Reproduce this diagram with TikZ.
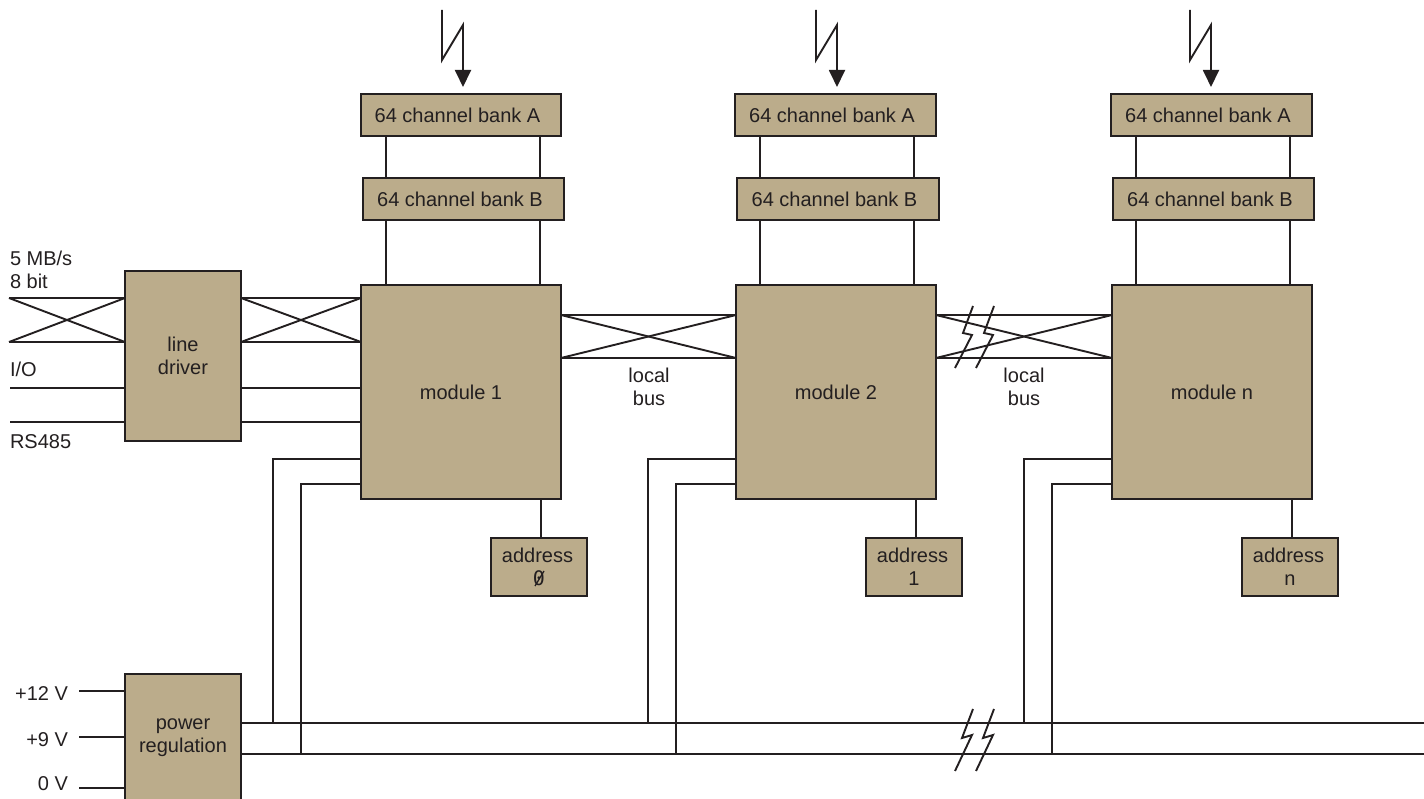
\documentclass[tikz,border=0pt]{standalone}
\usepackage{fontspec}
\setmainfont{Liberation Sans}
\newfontfamily\zeromono{DejaVu Sans Mono}
\usetikzlibrary{arrows.meta}
\definecolor{ink}{HTML}{231F20}
\definecolor{tan}{HTML}{BBAC8B}
\newcommand{\bx}[6][]{\node[boxs,#1,minimum width={(#4-#2)*1pt},minimum height={(#5-#3)*1pt}] (#6) at ({(#2+#4)/2},{(#3+#5)/2})}
\tikzset{
  boxs/.style={draw=ink,fill=tan,line width=2.2pt,inner sep=0pt,outer sep=0pt,align=center,text=ink,font=\fontsize{20}{23}\selectfont},
  wire/.style={draw=ink,line width=1.9pt},
  label/.style={inner sep=0pt,outer sep=0pt,text=ink,font=\fontsize{20}{23}\selectfont},
  zig/.style={draw=ink,line width=1.9pt,line join=miter,-{Triangle[length=17pt,width=16pt,fill=ink]}},
  bolt/.style={draw=ink,line width=1.9pt,line join=miter},
}
\begin{document}
\begin{tikzpicture}[x=1pt,y=-1pt]
\useasboundingbox (0,0) rectangle (1424,799);
\clip (0,0) rectangle (1424,799);
% modules and address boxes
\bx{361}{285}{561}{499}{m1} {module 1};
\bx{736}{285}{936}{499}{m2} {module 2};
\bx{1112}{285}{1312}{499}{m3} {module n};
\bx{361}{94}{561}{136}{a1} {\hspace*{-7pt}64 channel bank A};
\bx{735}{94}{936}{136}{a2} {\hspace*{-7pt}64 channel bank A};
\bx{1111}{94}{1312}{136}{a3} {\hspace*{-7pt}64 channel bank A};
\bx{363}{178}{564}{220}{b1} {\hspace*{-7pt}64 channel bank B};
\bx{737}{178}{939}{220}{b2} {\hspace*{-7pt}64 channel bank B};
\bx{1113}{178}{1314}{220}{b3} {\hspace*{-7pt}64 channel bank B};
\bx{491}{538}{587}{596}{d1} {\hspace*{-3pt}address\\{\zeromono 0}};
\bx{866}{538}{962}{596}{d2} {\hspace*{-3pt}address\\1};
\bx{1242}{538}{1338}{596}{d3} {\hspace*{-3pt}address\\n};
\bx{125}{271}{241}{441}{ld} {line\\driver};
\bx{125}{674}{241}{802}{pw} {power\\regulation};
% slash of the zero
\coordinate (zs) at (535,586);
\coordinate (ze) at (544,571);
\draw[draw=ink,line width=1.3pt] (zs) -- (ze);
% bank, module, address connectors
\foreach \i/\p/\q/\s in {1/386/540/541,2/760/914/916,3/1136/1290/1292}{
  \coordinate (p\i) at (\p,0);
  \coordinate (q\i) at (\q,0);
  \coordinate (s\i) at (\s,0);
  \draw[wire] (p\i |- a\i.south) -- (p\i |- b\i.north);
  \draw[wire] (q\i |- a\i.south) -- (q\i |- b\i.north);
  \draw[wire] (p\i |- b\i.south) -- (p\i |- m\i.north);
  \draw[wire] (q\i |- b\i.south) -- (q\i |- m\i.north);
  \draw[wire] (s\i |- m\i.south) -- (s\i |- d\i.north);
}
% antenna arrows
\foreach \i/\dx in {1/0,2/374,3/748}{
  \coordinate (z0\i) at (442+\dx,10);
  \coordinate (z1\i) at (442+\dx,60);
  \coordinate (z2\i) at (463+\dx,25);
  \coordinate (z3\i) at (463+\dx,87);
  \draw[zig] (z0\i) -- (z1\i) -- (z2\i) -- (z3\i);
}
% line driver wires
\coordinate (ya) at (0,298);
\coordinate (yb) at (0,342);
\coordinate (yc) at (0,388);
\coordinate (yd) at (0,422);
\coordinate (la) at (9,298);
\coordinate (lb) at (9,342);
\coordinate (lc) at (10,388);
\coordinate (ld2) at (10,422);
\draw[wire] (la) -- (ld.west |- la);
\draw[wire] (lb) -- (ld.west |- lb);
\draw[wire] (la) -- (ld.west |- lb);
\draw[wire] (lb) -- (ld.west |- la);
\draw[wire] (lc) -- (ld.west |- lc);
\draw[wire] (ld2) -- (ld.west |- ld2);
\draw[wire] (ld.east |- ya) -- (m1.west |- ya);
\draw[wire] (ld.east |- yb) -- (m1.west |- yb);
\draw[wire] (ld.east |- ya) -- (m1.west |- yb);
\draw[wire] (ld.east |- yb) -- (m1.west |- ya);
\draw[wire] (ld.east |- yc) -- (m1.west |- yc);
\draw[wire] (ld.east |- yd) -- (m1.west |- yd);
% local buses
\coordinate (t) at (0,315);
\coordinate (u) at (0,358);
\foreach \f/\g in {m1/m2,m2/m3}{
  \draw[wire] (\f.east |- t) -- (\g.west |- t);
  \draw[wire] (\f.east |- u) -- (\g.west |- u);
  \draw[wire] (\f.east |- t) -- (\g.west |- u);
  \draw[wire] (\f.east |- u) -- (\g.west |- t);
}
\node[label,align=center] (lb1) at (649,387) {local\\bus};
\node[label,align=center] (lb2) at (1024,387) {local\\bus};
% power rails
\coordinate (r1) at (1424,723);
\coordinate (r2) at (1424,754);
\draw[wire] (pw.east |- r1) -- (r1);
\draw[wire] (pw.east |- r2) -- (r2);
\foreach \i/\v/\w in {1/273/301,2/648/676,3/1024/1052}{
  \coordinate (v\i) at (\v,459);
  \coordinate (w\i) at (\w,484);
  \draw[wire] (v\i |- r1) -- (v\i) -- (m\i.west |- v\i);
  \draw[wire] (w\i |- r2) -- (w\i) -- (m\i.west |- w\i);
}
% power inputs
\coordinate (i1) at (79,691);
\coordinate (i2) at (79,737);
\coordinate (i3) at (79,788);
\draw[wire] (i1) -- (pw.west |- i1);
\draw[wire] (i2) -- (pw.west |- i2);
\draw[wire] (i3) -- (pw.west |- i3);
% break marks
\foreach \dx in {0,21}{
  \draw[bolt] (973+\dx,306) -- (963+\dx,333) -- (972+\dx,335) -- (955+\dx,368);
  \draw[bolt] (973+\dx,709) -- (962+\dx,738) -- (972+\dx,735) -- (955+\dx,771);
}
% labels
\node[label,anchor=base west] (t1) at (10,266) {5 MB/s};
\node[label,anchor=base west] (t2) at (10,289) {8 bit};
\node[label,anchor=base west] (t3) at (10,377) {I/O};
\node[label,anchor=base west] (t4) at (10,448) {RS485};
\node[label,anchor=base east] (t5) at (68,700) {+12 V};
\node[label,anchor=base east] (t6) at (68,746) {+9 V};
\node[label,anchor=base east] (t7) at (68,790) {0 V};
\end{tikzpicture}
\end{document}
